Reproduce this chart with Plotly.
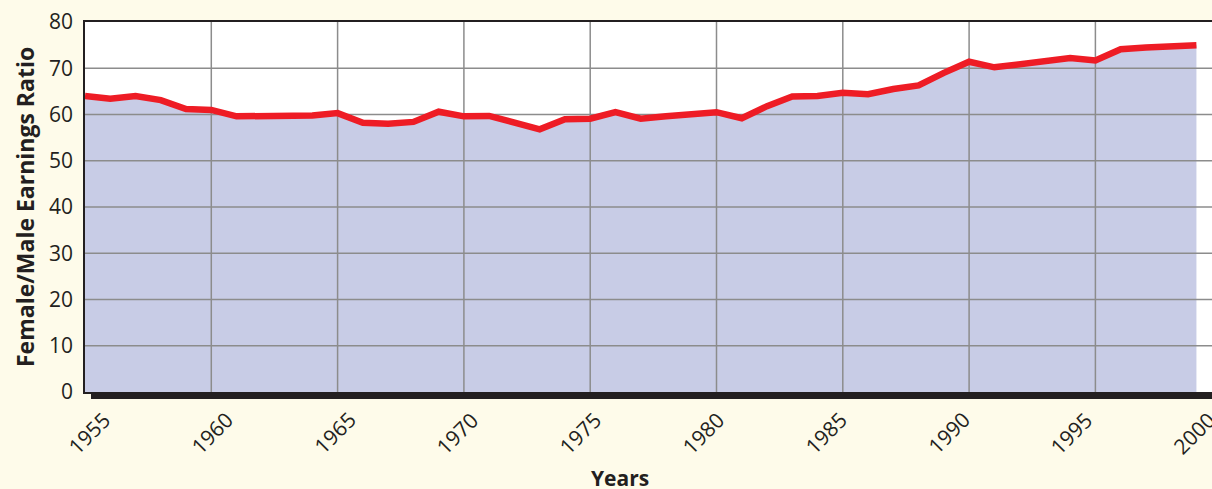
import plotly.graph_objects as go

# ---- data ----
years = list(range(1955, 2000))
ratio = [64.0, 63.4, 64.0, 63.1, 61.2, 61.0, 59.6, 59.7, 59.8, 59.8,
         60.3, 58.2, 58.0, 58.4, 60.6, 59.6, 59.7, 58.1, 56.8, 59.0,
         59.1, 60.5, 59.1, 59.6, 59.9, 60.5, 59.2, 61.8, 63.9, 64.0,
         64.7, 64.4, 65.5, 66.3, 69.0, 71.4, 70.2, 70.9, 71.8, 72.2,
         71.7, 74.1, 74.5, 74.8, 75.0]
x_ticks = [1955, 1960, 1965, 1970, 1975, 1980, 1985, 1990, 1995, 2000]
x_tick_labels = [str(t) for t in x_ticks]
y_ticks = [0, 10, 20, 30, 40, 50, 60, 70, 80]

# ---- style ----
BG = "#FEFBEA"
FILL = "#C8CCE6"
RED = "#EE1C25"
GRID = "#8C8C8C"
INK = "#231F20"
FONT = "Open Sans"

W, H = 1212, 489
ML, MT, MB, MR = 85, 22, 97, 0
x_range = [1955, 1955 + (W - ML - MR) / 25.26]
y_range = [0, 80]

fig = go.Figure()

# filled area (no line)
fig.add_trace(go.Scatter(x=years, y=ratio, mode="lines", fill="tozeroy",
                         fillcolor=FILL, line=dict(width=0, color=FILL),
                         hoverinfo="skip", showlegend=False))

# grid lines drawn as traces so they sit above the fill
gx, gy = [], []
for t in x_ticks[1:-1]:
    gx += [t, t, None]
    gy += [y_range[0], y_range[1], None]
for v in y_ticks[1:-1]:
    gx += [x_range[0], x_range[1], None]
    gy += [v, v, None]
fig.add_trace(go.Scatter(x=gx, y=gy, mode="lines",
                         line=dict(color=GRID, width=1.5),
                         hoverinfo="skip", showlegend=False, cliponaxis=True))

# red ratio line
fig.add_trace(go.Scatter(x=years, y=ratio, mode="lines",
                         line=dict(color=RED, width=6.5),
                         showlegend=False))

fig.update_xaxes(range=x_range, showgrid=False, zeroline=False,
                 showticklabels=False, showline=True, linecolor=INK,
                 linewidth=1.5, mirror=True, fixedrange=True)
fig.update_yaxes(range=y_range, tickvals=y_ticks, showgrid=False,
                 zeroline=False, showline=True, linecolor=INK, linewidth=1.5,
                 tickfont=dict(family=FONT, size=21, color=INK),
                 ticklabelstandoff=6, fixedrange=True)

# thick base bar under the plot
fig.add_shape(type="rect", xref="paper", yref="paper",
              xsizemode="pixel", ysizemode="pixel", xanchor=0, yanchor=0,
              x0=6, x1=W, y0=-7, y1=0, fillcolor=INK, line=dict(width=0),
              layer="above")

# rotated x tick labels (annotations, so the cut-off 2000 can show)
span = x_range[1] - x_range[0]
for i, (t, lab) in enumerate(zip(x_ticks, x_tick_labels)):
    fig.add_annotation(xref="paper", yref="paper",
                       x=(t - x_range[0]) / span, y=0,
                       xshift=4 - 3.5 * i, yshift=-41, text=lab,
                       textangle=-45, showarrow=False, xanchor="center",
                       yanchor="middle",
                       font=dict(family=FONT, size=21, color=INK))

# axis titles
fig.add_annotation(xref="paper", yref="paper", x=0, y=0.5, xshift=-60,
                   text="<b>Female/Male Earnings Ratio</b>", textangle=-90,
                   showarrow=False, xanchor="center", yanchor="middle",
                   font=dict(family=FONT, size=23, color=INK))
fig.add_annotation(xref="paper", yref="paper", x=0, y=0, xshift=535,
                   yshift=-86, text="<b>Years</b>", showarrow=False,
                   xanchor="center", yanchor="middle",
                   font=dict(family=FONT, size=21, color=INK))

fig.update_layout(width=W, height=H, paper_bgcolor=BG, plot_bgcolor="white",
                  margin=dict(l=ML, r=MR, t=MT, b=MB),
                  font=dict(family=FONT, color=INK), showlegend=False)

fig.write_html("out.html", config={"displayModeBar": False},
               post_script="document.body.style.margin='0';"
                           "document.body.style.overflow='hidden';")
